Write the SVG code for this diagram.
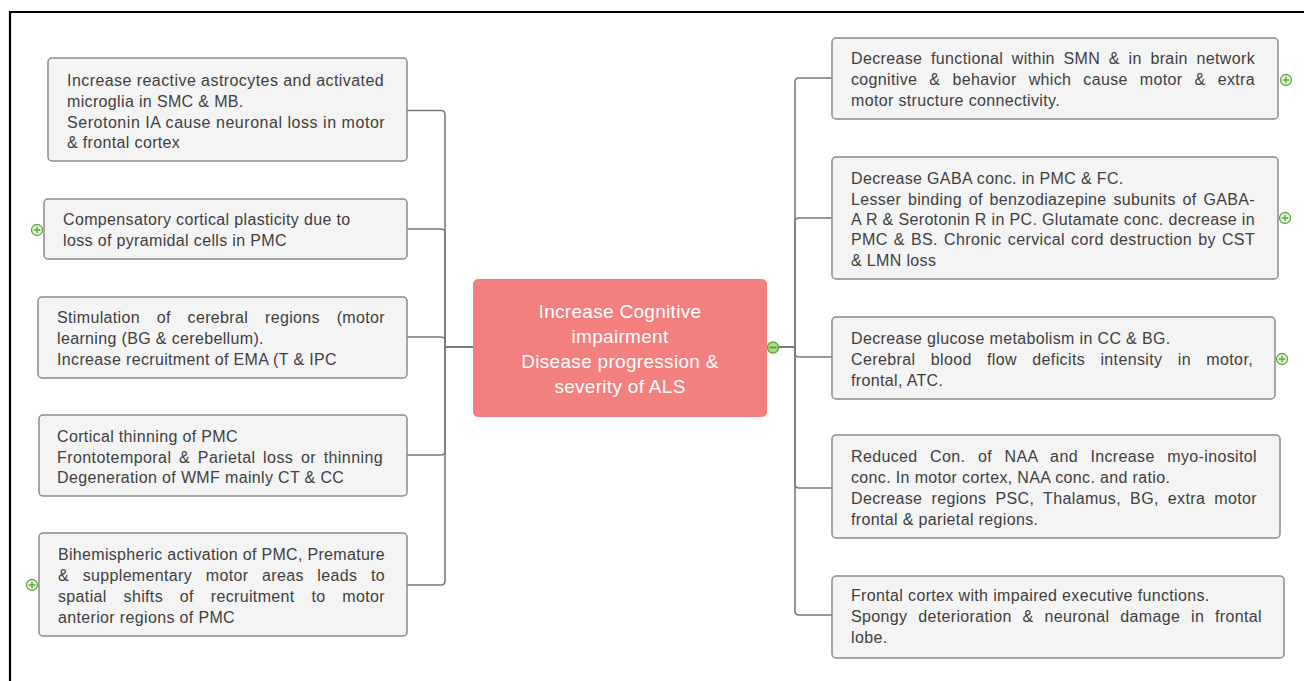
<svg xmlns="http://www.w3.org/2000/svg" width="1304" height="681" viewBox="0 0 1304 681">
  <style>
    .box { fill: #f4f4f4; stroke: #8a8a8a; stroke-width: 1.5; }
    .txt { font-family: "Liberation Sans", Arial, sans-serif; font-size: 16px; letter-spacing: 0.35px; fill: #404040; }
    .ctxt { font-family: "Liberation Sans", Arial, sans-serif; font-size: 19px; letter-spacing: 0.3px; fill: #ffffff; text-anchor: middle; }
    .link { fill: none; stroke: #7a7a7a; stroke-width: 1.6; }
    .tog { fill: #eaf6e2; stroke: #5aa935; stroke-width: 1.3; }
    .togmark { stroke: #5aa935; stroke-width: 1.4; fill: none; }
  </style>
  <defs>
    <g id="expand">
      <circle class="tog" cx="0" cy="0" r="5.5"/>
      <path class="togmark" d="M-3.3 0 H3.3 M0 -3.3 V3.3"/>
    </g>
  </defs>

  <rect x="0" y="0" width="1304" height="681" fill="#ffffff"/>
  <!-- page frame -->
  <path d="M10 681 V12 H1304" fill="none" stroke="#000000" stroke-width="2.2"/>

  <!-- connectors -->
  <g id="connectors">
    <path class="link" d="M473 347 H445 V114.5 Q445 110.5 441 110.5 H407"/>
    <path class="link" d="M473 347 H445 V233 Q445 229 441 229 H407"/>
    <path class="link" d="M473 347 H445 V341 Q445 337 441 337 H407"/>
    <path class="link" d="M473 347 H445 V451 Q445 455 441 455 H407"/>
    <path class="link" d="M473 347 H445 V581 Q445 585 441 585 H407"/>
    <path class="link" d="M779 347 H795 V82 Q795 78 799 78 H832"/>
    <path class="link" d="M779 347 H795 V222 Q795 218 799 218 H832"/>
    <path class="link" d="M779 347 H795 V353 Q795 357 799 357 H832"/>
    <path class="link" d="M779 347 H795 V484 Q795 488 799 488 H832"/>
    <path class="link" d="M779 347 H795 V611 Q795 615 799 615 H832"/>
  </g>

  <!-- central topic -->
  <g id="central">
    <rect x="473" y="279" width="294" height="138" rx="5" fill="#f47f7f"/>
    <text class="ctxt" x="620" y="318">Increase Cognitive</text>
    <text class="ctxt" x="620" y="343">impairment</text>
    <text class="ctxt" x="620" y="368">Disease progression &amp;</text>
    <text class="ctxt" x="620" y="393">severity of ALS</text>
    <circle cx="773" cy="347.5" r="5.5" fill="#a9dc8a" stroke="#5aa935" stroke-width="1.4"/>
    <path d="M769.6 347.5 H776.4" stroke="#4a9a2a" stroke-width="1.6"/>
  </g>

  <!-- left topics -->
  <g id="left-1">
    <rect class="box" x="48" y="58" width="359" height="103" rx="4"/>
    <text class="txt" x="67" y="86" textLength="317" lengthAdjust="spacing">Increase reactive astrocytes and activated</text>
    <text class="txt" x="67" y="106.8">microglia in SMC &amp; MB.</text>
    <text class="txt" x="67" y="127.6" textLength="318" lengthAdjust="spacing">Serotonin IA cause neuronal loss in motor</text>
    <text class="txt" x="67" y="148.4">&amp; frontal cortex</text>
  </g>
  <g id="left-2">
    <rect class="box" x="44" y="199" width="363" height="60" rx="4"/>
    <text class="txt" x="63" y="225">Compensatory cortical plasticity due to</text>
    <text class="txt" x="63" y="246">loss of pyramidal cells in PMC</text>
    <use href="#expand" x="37" y="230"/>
  </g>
  <g id="left-3">
    <rect class="box" x="38" y="297" width="369" height="81" rx="4"/>
    <text class="txt" x="57" y="323" textLength="328" lengthAdjust="spacing" style="word-spacing:12px">Stimulation of cerebral regions (motor</text>
    <text class="txt" x="57" y="344">learning (BG &amp; cerebellum).</text>
    <text class="txt" x="57" y="365">Increase recruitment of EMA (T &amp; IPC</text>
  </g>
  <g id="left-4">
    <rect class="box" x="39" y="415" width="368" height="81" rx="4"/>
    <text class="txt" x="57" y="442">Cortical thinning of PMC</text>
    <text class="txt" x="57" y="463" textLength="326" lengthAdjust="spacing" style="word-spacing:2.8px">Frontotemporal &amp; Parietal loss or thinning</text>
    <text class="txt" x="57" y="483">Degeneration of WMF mainly CT &amp; CC</text>
  </g>
  <g id="left-5">
    <rect class="box" x="39" y="533" width="368" height="103" rx="4"/>
    <text class="txt" x="58" y="560" textLength="327" lengthAdjust="spacing">Bihemispheric activation of PMC, Premature</text>
    <text class="txt" x="58" y="581" textLength="327" lengthAdjust="spacing" style="word-spacing:8.8px">&amp; supplementary motor areas leads to</text>
    <text class="txt" x="58" y="602" textLength="327" lengthAdjust="spacing" style="word-spacing:12px">spatial shifts of recruitment to motor</text>
    <text class="txt" x="58" y="623">anterior regions of PMC</text>
    <use href="#expand" x="32" y="585"/>
  </g>

  <!-- right topics -->
  <g id="right-1">
    <rect class="box" x="832" y="38" width="446" height="81" rx="4"/>
    <text class="txt" x="851" y="64" textLength="404" lengthAdjust="spacing" style="word-spacing:3.9px">Decrease functional within SMN &amp; in brain network</text>
    <text class="txt" x="851" y="85" textLength="404" lengthAdjust="spacing" style="word-spacing:7.3px">cognitive &amp; behavior which cause motor &amp; extra</text>
    <text class="txt" x="851" y="106">motor structure connectivity.</text>
    <use href="#expand" x="1286" y="80"/>
  </g>
  <g id="right-2">
    <rect class="box" x="832" y="157" width="446" height="122" rx="4"/>
    <text class="txt" x="851" y="184">Decrease GABA conc. in PMC &amp; FC.</text>
    <text class="txt" x="851" y="204.5" textLength="404" lengthAdjust="spacing" style="word-spacing:2px">Lesser binding of benzodiazepine subunits of GABA-</text>
    <text class="txt" x="851" y="225" textLength="404" lengthAdjust="spacing">A R &amp; Serotonin R in PC. Glutamate conc. decrease in</text>
    <text class="txt" x="851" y="245" textLength="404" lengthAdjust="spacing" style="word-spacing:1.4px">PMC &amp; BS. Chronic cervical cord destruction by CST</text>
    <text class="txt" x="851" y="265.5">&amp; LMN loss</text>
    <use href="#expand" x="1285" y="218"/>
  </g>
  <g id="right-3">
    <rect class="box" x="832" y="317" width="443" height="82" rx="4"/>
    <text class="txt" x="851" y="344">Decrease glucose metabolism in CC &amp; BG.</text>
    <text class="txt" x="851" y="365" textLength="402" lengthAdjust="spacing" style="word-spacing:10.5px">Cerebral blood flow deficits intensity in motor,</text>
    <text class="txt" x="851" y="386">frontal, ATC.</text>
    <use href="#expand" x="1282" y="359"/>
  </g>
  <g id="right-4">
    <rect class="box" x="832" y="435" width="448" height="103" rx="4"/>
    <text class="txt" x="851" y="462" textLength="406" lengthAdjust="spacing" style="word-spacing:7.7px">Reduced Con. of NAA and Increase myo-inositol</text>
    <text class="txt" x="851" y="483">conc. In motor cortex, NAA conc. and ratio.</text>
    <text class="txt" x="851" y="504" textLength="406" lengthAdjust="spacing" style="word-spacing:4.3px">Decrease regions PSC, Thalamus, BG, extra motor</text>
    <text class="txt" x="851" y="525">frontal &amp; parietal regions.</text>
  </g>
  <g id="right-5">
    <rect class="box" x="832" y="576" width="452" height="82" rx="4"/>
    <text class="txt" x="851" y="601">Frontal cortex with impaired executive functions.</text>
    <text class="txt" x="851" y="622" textLength="411" lengthAdjust="spacing" style="word-spacing:6px">Spongy deterioration &amp; neuronal damage in frontal</text>
    <text class="txt" x="851" y="643">lobe.</text>
  </g>
</svg>
